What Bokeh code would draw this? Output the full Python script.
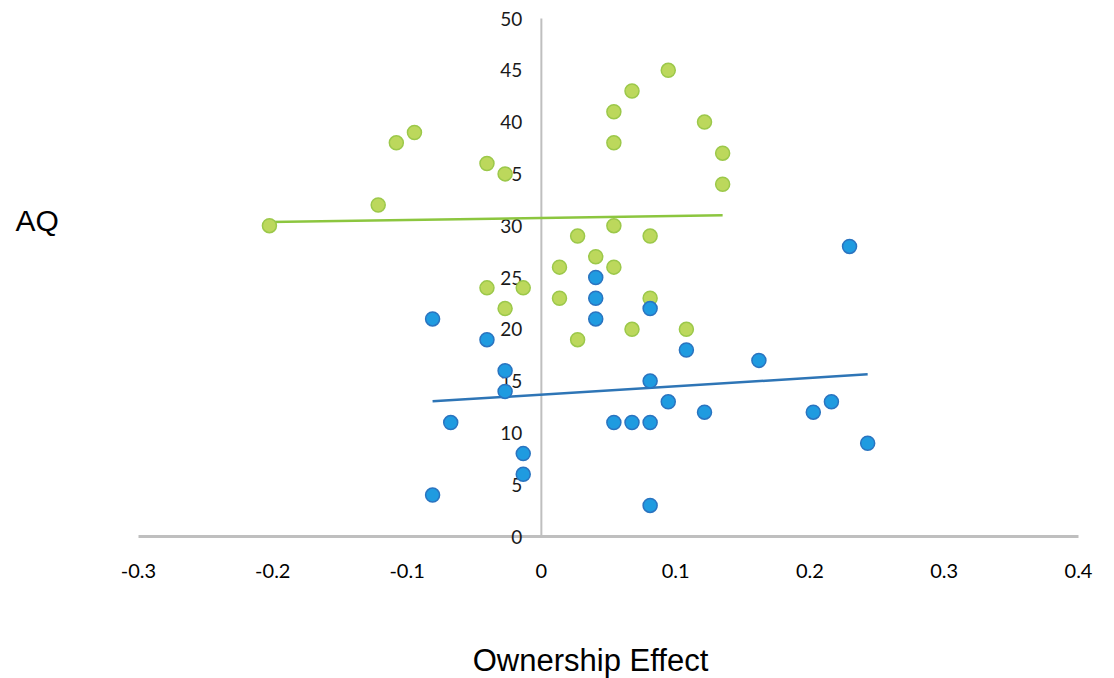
from bokeh.plotting import figure
from bokeh.models import Range1d
from bokeh.core.properties import value
from bokeh.embed import file_html
from bokeh.resources import INLINE

# Data
green_x = [-0.2025, -0.1215, -0.108, -0.0945, -0.0405, -0.027, -0.0405, -0.0135, -0.027,
           0.0945, 0.0675, 0.054, 0.054, 0.1215, 0.135, 0.135, 0.054, 0.027, 0.081,
           0.0405, 0.0135, 0.054, 0.0135, 0.081, 0.0675, 0.108, 0.027]
green_y = [30, 32, 38, 39, 36, 35, 24, 24, 22,
           45, 43, 41, 38, 40, 37, 34, 30, 29, 29,
           27, 26, 26, 23, 23, 20, 20, 19]

blue_x = [-0.081, -0.0405, -0.027, -0.027, -0.0675, -0.0135, -0.0135, -0.081,
          0.0405, 0.0405, 0.0405, 0.081, 0.108, 0.162, 0.081, 0.0945, 0.1215,
          0.054, 0.0675, 0.081, 0.2025, 0.216, 0.243, 0.081, 0.2295]
blue_y = [21, 19, 16, 14, 11, 8, 6, 4,
          25, 23, 21, 22, 18, 17, 15, 13, 12,
          11, 11, 11, 12, 13, 9, 3, 28]

green_trend_x = [-0.2025, 0.135]
green_trend_y = [30.35, 31.0]
blue_trend_x = [-0.081, 0.243]
blue_trend_y = [13.05, 15.65]

x_ticks = [-0.3, -0.2, -0.1, 0, 0.1, 0.2, 0.3, 0.4]
x_tick_labels = ["-0.3", "-0.2", "-0.1", "0", "0.1", "0.2", "0.3", "0.4"]
y_ticks = [0, 5, 10, 15, 20, 25, 30, 35, 40, 45, 50]
y_tick_labels = [str(t) for t in y_ticks]

x_title = "Ownership Effect"
y_title = "AQ"

# Layout: the plotting frame fills the whole canvas; axes are drawn by hand
W, H = 1098, 678
FL, FR, FT, FB = 138, 1078, 18, 536          # pixel box of the data area
x0, x1 = x_ticks[0], x_ticks[-1]
y0, y1 = y_ticks[0], y_ticks[-1]
dx = (x1 - x0) / (FR - FL)                   # data per pixel
dy = (y1 - y0) / (FB - FT)

def px_x(px):
    return x0 + (px - FL) * dx

def px_y(py):
    return y0 + (FB - py) * dy

p = figure(width=W, height=H, output_backend="svg", toolbar_location=None,
           x_range=Range1d(px_x(0), px_x(W)), y_range=Range1d(px_y(H), px_y(0)),
           min_border=0)
p.axis.visible = False
p.grid.visible = False
p.outline_line_color = None
p.background_fill_color = "white"
p.border_fill_color = "white"

tick_font = value("Lato")

# axis lines
p.segment(x0=[x0], y0=[y0], x1=[x1], y1=[y0], line_color="#bfbfbf", line_width=3)
p.segment(x0=[0], y0=[y0], x1=[0], y1=[y1], line_color="#bfbfbf", line_width=2)

# tick labels
p.text(x=x_ticks, y=[y0 - 34 * dy] * len(x_ticks), text=x_tick_labels,
       text_font=tick_font, text_font_size="20px", text_color="#000000",
       text_align="center", text_baseline="middle")
p.text(x=[0] * len(y_ticks), y=y_ticks, text=y_tick_labels, x_offset=-19,
       text_font=tick_font, text_font_size="19px", text_color="#1a1a1a",
       text_align="right", text_baseline="middle")

# trend lines
p.line(green_trend_x, green_trend_y, line_color="#8cc63f", line_width=2.5)
p.line(blue_trend_x, blue_trend_y, line_color="#2e75b6", line_width=2.5)

# points
p.scatter(green_x, green_y, size=14, fill_color="#bcd85c", line_color="#9cc84a", line_width=1.5)
p.scatter(blue_x, blue_y, size=14, fill_color="#1f9be0", line_color="#2a74c0", line_width=1.5)

# axis titles
p.text(x=[px_x(15)], y=[px_y(220)], text=[y_title], text_font=value("Liberation Sans"),
       text_font_size="30px", text_color="#000000", text_align="left", text_baseline="middle")
p.text(x=[px_x(590)], y=[px_y(660)], text=[x_title], text_font=value("Liberation Sans"),
       text_font_size="31px", text_color="#000000", text_align="center", text_baseline="middle")

open("out.html", "w").write(file_html(p, INLINE))
